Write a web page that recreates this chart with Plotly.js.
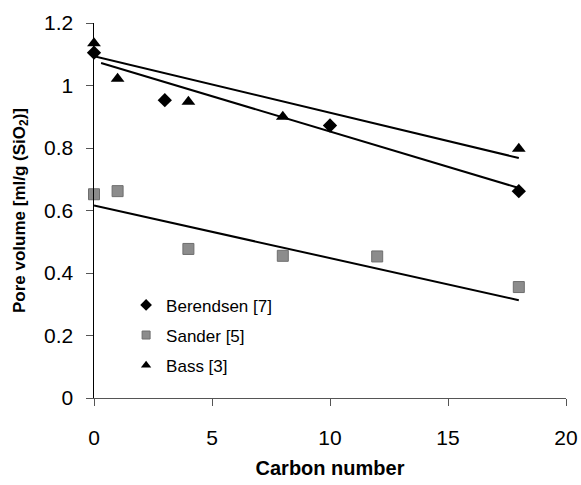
<!DOCTYPE html>
<html><head><meta charset="utf-8">
<script src="https://cdn.plot.ly/plotly-3.0.1.min.js"></script>
<style>html,body{margin:0;padding:0;background:#fff}#chart{width:581px;height:485px}</style>
</head><body><div id="chart"></div>
<script>
const berendsenX = [0, 3, 10, 18];
const berendsenY = [1.105, 0.953, 0.872, 0.662];
const sanderX = [0, 1, 4, 8, 12, 18];
const sanderY = [0.652, 0.662, 0.477, 0.455, 0.453, 0.355];
const bassX = [0, 1, 4, 8, 18];
const bassY = [1.135, 1.022, 0.948, 0.900, 0.798];
const bassTrendX = [0, 18];
const bassTrendY = [1.094, 0.768];
const berendsenTrendX = [0.3, 18];
const berendsenTrendY = [1.072, 0.672];
const sanderTrendX = [0, 18];
const sanderTrendY = [0.616, 0.313];
const xTicks = [0, 5, 10, 15, 20];
const yTicks = [0, 0.2, 0.4, 0.6, 0.8, 1, 1.2];
const yTickText = ['0', '0.2', '0.4', '0.6', '0.8', '1', '1.2'];
const seriesNames = ['Berendsen [7]', 'Sander [5]', 'Bass [3]'];

const line = {color: '#000', width: 2};
const mk = {
  ber: {symbol: 'diamond', color: '#000'},
  san: {symbol: 'square', color: '#8c8c8c', line: {color: '#6e6e6e', width: 1}},
  bas: {symbol: 'triangle-up', color: '#000'}
};
const traces = [
  {x: bassTrendX, y: bassTrendY, mode: 'lines', line: line, showlegend: false, hoverinfo: 'skip'},
  {x: berendsenTrendX, y: berendsenTrendY, mode: 'lines', line: line, showlegend: false, hoverinfo: 'skip'},
  {x: sanderTrendX, y: sanderTrendY, mode: 'lines', line: line, showlegend: false, hoverinfo: 'skip'},
  {x: berendsenX, y: berendsenY, mode: 'markers', showlegend: false, cliponaxis: false,
   marker: Object.assign({size: 11}, mk.ber)},
  {x: sanderX, y: sanderY, mode: 'markers', showlegend: false, cliponaxis: false,
   marker: Object.assign({size: 11}, mk.san)},
  {x: bassX, y: bassY, mode: 'markers', showlegend: false, cliponaxis: false,
   marker: Object.assign({size: 12}, mk.bas)},
  {x: [null], y: [null], mode: 'markers', name: seriesNames[0], legendgroup: 'a', marker: Object.assign({size: 9}, mk.ber)},
  {x: [null], y: [null], mode: 'markers', name: seriesNames[1], legendgroup: 'b', marker: Object.assign({size: 8}, mk.san)},
  {x: [null], y: [null], mode: 'markers', name: seriesNames[2], legendgroup: 'c', marker: Object.assign({size: 9}, mk.bas)}
];

const layout = {
  width: 581, height: 485,
  margin: {l: 94, r: 15, t: 23, b: 87},
  paper_bgcolor: '#fff', plot_bgcolor: '#fff',
  font: {family: 'Liberation Sans, Arial, sans-serif', color: '#000'},
  xaxis: {
    range: [0, 20], tickvals: xTicks, ticks: 'outside', ticklen: 7, tickcolor: '#555',
    showline: true, linecolor: '#555', linewidth: 1, showgrid: false, zeroline: false,
    tickfont: {size: 21}, ticklabelstandoff: 14,
    title: {text: '<b>Carbon number</b>', font: {size: 20}, standoff: 12}
  },
  yaxis: {
    range: [0, 1.2], tickvals: yTicks, ticktext: yTickText, ticks: 'outside', ticklen: 7, tickcolor: '#555',
    showline: true, linecolor: '#000', linewidth: 1.5, showgrid: false, zeroline: false,
    tickfont: {size: 21}, ticklabelstandoff: 8,
    title: {text: '<b>Pore volume [ml/g (SiO<sub>2</sub>)]</b>', font: {size: 17}, standoff: 14}
  },
  legend: {x: 0.068, y: 0.295, xanchor: 'left', yanchor: 'top', font: {size: 17},
           bgcolor: 'rgba(0,0,0,0)', tracegroupgap: 5, itemwidth: 30}
};
Plotly.newPlot('chart', traces, layout, {displayModeBar: false, staticPlot: true});
</script></body></html>
